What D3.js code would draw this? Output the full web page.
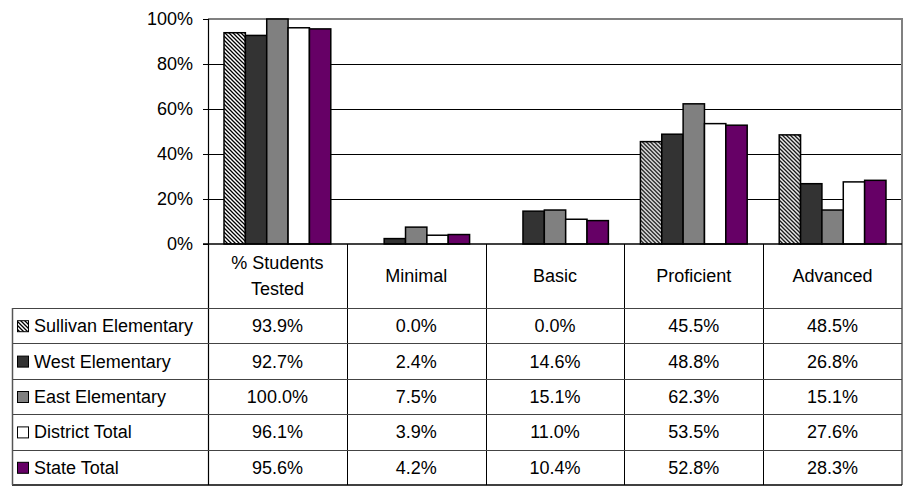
<!DOCTYPE html>
<html>
<head>
<meta charset="utf-8">
<script src="https://cdn.jsdelivr.net/npm/d3@7"></script>
<style>
  html, body { margin: 0; padding: 0; background: #fff; }
  svg { display: block; font-family: "Liberation Sans", Arial, sans-serif; }
</style>
</head>
<body>
<svg id="chart" width="911" height="488"></svg>
<script>
// Performance levels (column headers, some wrapped over two lines)
const categories = ["% Students Tested", "Minimal", "Basic", "Proficient", "Advanced"];
const categoryLines = [["% Students", "Tested"], ["Minimal"], ["Basic"], ["Proficient"], ["Advanced"]];

// Schools / totals
const series = ["Sullivan Elementary", "West Elementary", "East Elementary", "District Total", "State Total"];

// Percent values per series, in category order
const sullivan = [93.9, 0.0, 0.0, 45.5, 48.5];
const west     = [92.7, 2.4, 14.6, 48.8, 26.8];
const east     = [100.0, 7.5, 15.1, 62.3, 15.1];
const district = [96.1, 3.9, 11.0, 53.5, 27.6];
const state    = [95.6, 4.2, 10.4, 52.8, 28.3];
const seriesValues = [sullivan, west, east, district, state];

const yTicks = [0, 20, 40, 60, 80, 100];

const fills = ["url(#hatch)", "#333333", "#808080", "#ffffff", "#660066"];

const svg = d3.select("#chart");
const fontSize = 18;

// Layout
const plotLeft = 208, plotRight = 902, plotTop = 19, plotBottom = 244;
const tableLeft = 12, headerBottom = 308, tableBottom = 485;
const rowH = (tableBottom - headerBottom) / series.length;

// Hatch pattern for the first series
const defs = svg.append("defs");
const pat = defs.append("pattern")
  .attr("id", "hatch")
  .attr("patternUnits", "userSpaceOnUse")
  .attr("width", 4).attr("height", 4);
pat.append("rect").attr("width", 4).attr("height", 4).attr("fill", "#fff");
pat.append("path")
  .attr("d", "M-1,-1 L5,5 M-1,3 L1,5 M3,-1 L5,1")
  .attr("stroke", "#000").attr("stroke-width", 1.3);

// Scales
const x0 = d3.scaleBand().domain(categories).range([plotLeft, plotRight]).padding(0);
const x1 = d3.scaleBand().domain(series).range([0, x0.bandwidth()])
  .paddingInner(0).paddingOuter(0.75);
const y = d3.scaleLinear().domain([0, 100]).range([plotBottom, plotTop]);

// Gridlines
svg.append("g").selectAll("line")
  .data(yTicks.filter(t => t > 0 && t < 100))
  .join("line")
  .attr("x1", plotLeft).attr("x2", plotRight)
  .attr("y1", d => Math.round(y(d)) + 0.5).attr("y2", d => Math.round(y(d)) + 0.5)
  .attr("stroke", "#000").attr("stroke-width", 1);

// Plot-area border (top and right), grey
svg.append("path")
  .attr("d", `M${plotLeft},${plotTop} L${plotRight},${plotTop} L${plotRight},${tableBottom}`)
  .attr("fill", "none").attr("stroke", "#808080").attr("stroke-width", 2);

// Bars
const groups = svg.append("g").selectAll("g")
  .data(categories)
  .join("g")
  .attr("transform", d => `translate(${x0(d)},0)`);

groups.selectAll("rect")
  .data((c, ci) => series.map((s, si) => ({ s, si, v: seriesValues[si][ci] })))
  .join("rect")
  .filter(d => d.v > 0)
  .attr("x", d => x1(d.s))
  .attr("width", x1.bandwidth())
  .attr("y", d => y(d.v))
  .attr("height", d => y(0) - y(d.v))
  .attr("fill", d => fills[d.si])
  .attr("stroke", "#000")
  .attr("stroke-width", 1.5);

// Y axis
const yAxis = d3.axisLeft(y)
  .tickValues(yTicks)
  .tickFormat(d => d + "%")
  .tickSize(5)
  .tickPadding(10);
const gy = svg.append("g")
  .attr("transform", `translate(${plotLeft},0)`)
  .call(yAxis);
gy.select(".domain").remove();
gy.selectAll(".tick line").attr("stroke", "#000");
gy.selectAll(".tick text")
  .attr("font-size", fontSize)
  .attr("font-family", "Liberation Sans, Arial, sans-serif")
  .attr("fill", "#000");

// Axis lines
svg.append("line")
  .attr("x1", plotLeft + 0.5).attr("x2", plotLeft + 0.5)
  .attr("y1", plotTop).attr("y2", tableBottom)
  .attr("stroke", "#000").attr("stroke-width", 1.2);
svg.append("line")
  .attr("x1", plotLeft - 5).attr("x2", plotRight)
  .attr("y1", plotBottom).attr("y2", plotBottom)
  .attr("stroke", "#000").attr("stroke-width", 1.5);

// Data table: column separators
const table = svg.append("g");
table.selectAll("line.col")
  .data(categories.slice(1))
  .join("line")
  .attr("class", "col")
  .attr("x1", d => Math.round(x0(d)) + 0.5).attr("x2", d => Math.round(x0(d)) + 0.5)
  .attr("y1", plotBottom).attr("y2", tableBottom)
  .attr("stroke", "#000").attr("stroke-width", 1);

// Row separators
table.selectAll("line.row")
  .data(d3.range(series.length))
  .join("line")
  .attr("class", "row")
  .attr("x1", tableLeft).attr("x2", plotRight)
  .attr("y1", i => Math.round(headerBottom + i * rowH) + 0.5)
  .attr("y2", i => Math.round(headerBottom + i * rowH) + 0.5)
  .attr("stroke", "#444").attr("stroke-width", 1);

// Table outer edges
table.append("line")
  .attr("x1", tableLeft).attr("x2", plotRight)
  .attr("y1", tableBottom).attr("y2", tableBottom)
  .attr("stroke", "#000").attr("stroke-width", 1.5);
table.append("line")
  .attr("x1", tableLeft + 0.5).attr("x2", tableLeft + 0.5)
  .attr("y1", headerBottom).attr("y2", tableBottom)
  .attr("stroke", "#555").attr("stroke-width", 1.5);

// Header labels
const headerMid = (plotBottom + headerBottom) / 2;
const lineH = 26;
categories.forEach((c, ci) => {
  const lines = categoryLines[ci];
  const cx = x0(c) + x0.bandwidth() / 2;
  lines.forEach((ln, li) => {
    svg.append("text")
      .attr("x", cx)
      .attr("y", headerMid + 6 + (li - (lines.length - 1) / 2) * lineH)
      .attr("text-anchor", "middle")
      .attr("font-size", fontSize)
      .text(ln);
  });
});

// Rows: legend key, series name, values
series.forEach((s, si) => {
  const mid = headerBottom + (si + 0.5) * rowH;
  const base = mid + 6.5;
  svg.append("rect")
    .attr("x", 17.5).attr("y", base - 11.5)
    .attr("width", 11).attr("height", 11)
    .attr("fill", fills[si])
    .attr("stroke", "#000").attr("stroke-width", 1);
  svg.append("text")
    .attr("x", 34).attr("y", base)
    .attr("font-size", fontSize)
    .text(s);
  categories.forEach((c, ci) => {
    svg.append("text")
      .attr("x", x0(c) + x0.bandwidth() / 2)
      .attr("y", base)
      .attr("text-anchor", "middle")
      .attr("font-size", fontSize)
      .text(d3.format(".1f")(seriesValues[si][ci]) + "%");
  });
});
</script>
</body>
</html>
